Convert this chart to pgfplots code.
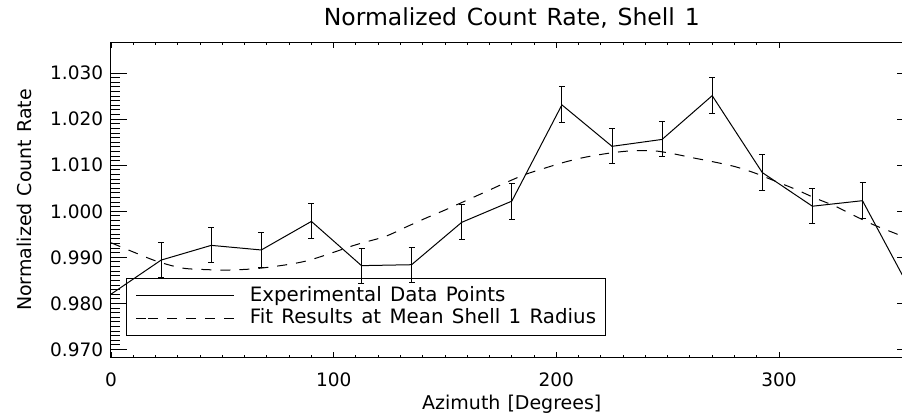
\documentclass[border=0pt]{standalone}
\usepackage{pgfplots}
\pgfplotsset{compat=1.18}
\usepackage{fontspec}
\setmainfont{DejaVu Sans}
\newcommand\titlefont{\fontsize{23.5}{25}\selectfont\spaceskip=9.8pt plus 2pt minus 1pt\relax}
\newcommand\legfont{\fontsize{19.8}{21}\selectfont\spaceskip=8.4pt plus 2pt minus 1pt\relax}
\newcommand\labfont{\fontsize{19}{21}\selectfont\spaceskip=7pt plus 2pt minus 1pt\relax}
\begin{document}
\begin{tikzpicture}
\begin{axis}[
  scale only axis,
  width=801.6pt, height=314.6pt,
  xmin=0, xmax=360,
  ymin=0.9683, ymax=1.0366,
  axis line style={line width=1pt, black},
  xtick={0,100,200,300},
  minor x tick num=9,
  ytick={0.970,0.980,0.990,1.000,1.010,1.020,1.030},
  minor y tick num=9,
  tick align=inside,
  xtick pos=both, ytick pos=both,
  xticklabel pos=lower, yticklabel pos=left,
  x tick style={line width=0.9pt, black, /pgfplots/major tick length=5.7pt, /pgfplots/minor tick length=2.7pt},
  y tick style={line width=0.9pt, black, /pgfplots/major tick length=15.7pt, /pgfplots/minor tick length=9pt},
  /pgf/number format/assume math mode=true,
  yticklabel style={/pgf/number format/fixed, /pgf/number format/fixed zerofill, /pgf/number format/precision=3, font=\fontsize{18.5}{20}\selectfont, inner sep=0pt, xshift=-7.7pt},
  xticklabel style={font=\fontsize{18.5}{20}\selectfont, inner sep=0pt, yshift=-15.7pt, anchor=north},
  scaled y ticks=false,
  xlabel={\labfont Azimuth [Degrees]},
  ylabel={\labfont Normalized Count Rate},
  title={\titlefont Normalized Count Rate, Shell 1},
  xlabel style={at={([yshift=-52.7pt]axis description cs:0.5,0)}, anchor=base, inner sep=0pt},
  ylabel style={at={([xshift=-79.3pt]axis description cs:0,0.5)}, anchor=base, inner sep=0pt, rotate=0},
  title style={at={([yshift=11pt]axis description cs:0.5,1)}, anchor=base, inner sep=0pt},
  legend style={at={(rel axis cs:0.01834,0.252)}, anchor=north west, draw=black, line width=1pt, fill=none,
    inner xsep=9.6pt, inner ysep=7.5pt, row sep=3.1pt,
    nodes={inner sep=0pt, text height=15pt, text depth=4.5pt},
    font=\legfont},
  legend cell align=left,
  /tikz/every odd column/.append style={column sep=15.6pt},
  legend image code/.code={\path (0pt,0pt) -- (12pt,0pt); \draw[#1] (12pt,0pt) -- (97.4pt,0pt);},
]
\addplot[black, line width=1pt, mark=none] coordinates {
(0,0.9820) (22.5,0.9894) (45,0.9926) (67.5,0.9916) (90,0.9978) (112.5,0.9882) (135,0.9884) (157.5,0.9976) (180,1.0022) (202.5,1.0231) (225,1.0141) (247.5,1.0156) (270,1.0251) (292.5,1.0084) (315,1.0011) (337.5,1.0023) (360,0.9820)
};
\addlegendentry{Experimental Data Points}
\addplot[black, line width=1pt, dash pattern=on 10pt off 9pt, smooth, mark=none] coordinates {
(0,0.99317) (11.7,0.99083) (20.9,0.98909) (31.9,0.98768) (42,0.98735) (53.4,0.98725) (67.8,0.98768) (87.6,0.98920) (109.6,0.99267) (123.1,0.99452) (132.0,0.99647) (141.0,0.99843) (150.0,1.00027) (159.0,1.00222) (168,1.00418) (176.9,1.00613) (185.9,1.00797) (194.9,1.00938) (203.9,1.01069) (213.3,1.01177) (224.1,1.01264) (233.1,1.01310) (243.4,1.01315) (252.0,1.01253) (261.4,1.01160) (270.4,1.01075) (280.2,1.00970) (289.2,1.00830) (298.2,1.00656) (307.2,1.00482) (316.2,1.00287) (325.1,1.00114) (333.2,0.99919) (342.7,0.99702) (351.2,0.99539) (360,0.99370)
};
\addlegendentry{Fit Results at Mean Shell 1 Radius}
\addplot[draw=none, mark=none, forget plot,
  error bars/.cd, y dir=both, y explicit,
  error bar style={draw=black, line width=1pt, solid},
  error mark options={rotate=90, mark size=3pt, line width=1pt, black, solid}]
 coordinates {
(22.5,0.9894) +- (0,0.0038)
(45,0.9926) +- (0,0.0038)
(67.5,0.9916) +- (0,0.0038)
(90,0.9978) +- (0,0.0038)
(112.5,0.9882) +- (0,0.0038)
(135,0.9884) +- (0,0.0038)
(157.5,0.9976) +- (0,0.0038)
(180,1.0022) +- (0,0.0039)
(202.5,1.0231) +- (0,0.0039)
(225,1.0141) +- (0,0.0038)
(247.5,1.0156) +- (0,0.0038)
(270,1.0251) +- (0,0.0039)
(292.5,1.0084) +- (0,0.0039)
(315,1.0011) +- (0,0.0038)
(337.5,1.0023) +- (0,0.0039)
};
\end{axis}
\pgfresetboundingbox
\useasboundingbox ([shift={(-111pt,-56.7pt)}]current axis.south west) rectangle ++(902pt,414pt);
\end{tikzpicture}
\end{document}
